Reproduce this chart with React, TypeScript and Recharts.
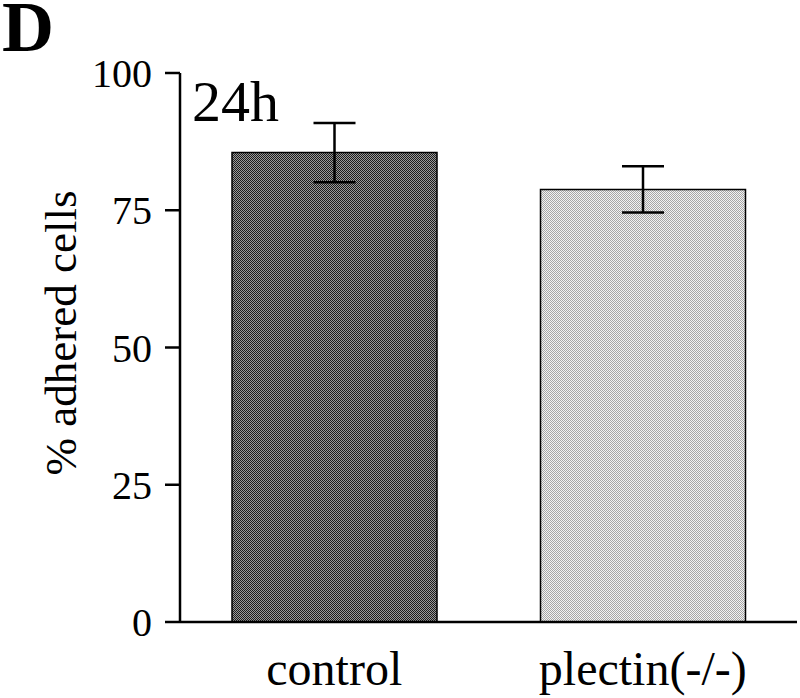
import React from 'react';
import { BarChart, Bar, XAxis, YAxis, ErrorBar, Cell, Customized } from 'recharts';

const categories = ['control', 'plectin(-/-)'];
const adhered = [85.5, 78.8];
const errors = [5.4, 4.2];
const yTicks = [0, 25, 50, 75, 100];
const fills = ['url(#darkStipple)', 'url(#lightStipple)'];

const data = categories.map((name, i) => ({ name, value: adhered[i], err: errors[i] }));

const serif = '"Liberation Serif", "DejaVu Serif", serif';

const Annotations = () => (
  <g>
    <text x={2} y={51} fontFamily={serif} fontWeight="bold" fontSize={72} fill="#000">D</text>
    <text x={192} y={121} fontFamily={serif} fontSize={58} fill="#000">24h</text>
    <text
      x={0}
      y={0}
      transform="translate(76,333) rotate(-90)"
      textAnchor="middle"
      fontFamily={serif}
      fontSize={45}
      fill="#000"
    >
      % adhered cells
    </text>
  </g>
);

export default function App() {
  return (
    <div style={{ position: 'absolute', left: 0, top: 0, background: '#fff' }}>
      <BarChart
        width={800}
        height={698}
        data={data}
        margin={{ top: 73, right: 3, bottom: 0, left: 0 }}
        barCategoryGap={0}
      >
        <defs>
          <pattern id="darkStipple" width={2} height={2} patternUnits="userSpaceOnUse">
            <rect x={0} y={0} width={2} height={2} fill="#9a9a9a" />
            <rect x={0} y={0} width={1} height={1} fill="#1c1c1c" />
            <rect x={1} y={1} width={1} height={1} fill="#1c1c1c" />
          </pattern>
          <pattern id="lightStipple" width={2} height={2} patternUnits="userSpaceOnUse">
            <rect x={0} y={0} width={2} height={2} fill="#f2f2f2" />
            <rect x={0} y={0} width={1} height={1} fill="#a6a6a6" />
            <rect x={1} y={1} width={1} height={1} fill="#a6a6a6" />
          </pattern>
        </defs>
        <XAxis
          dataKey="name"
          height={76}
          tickLine={false}
          tickSize={0}
          tickMargin={29}
          axisLine={{ stroke: '#000', strokeWidth: 2.5 }}
          tick={{ fill: '#000', fontSize: 48, fontFamily: serif }}
          interval={0}
        />
        <XAxis
          xAxisId="top"
          orientation="top"
          dataKey="name"
          height={0}
          tick={false}
          tickLine={false}
          axisLine={{ stroke: '#000', strokeWidth: 2.5 }}
        />
        <YAxis
          domain={[0, 100]}
          ticks={yTicks}
          width={180}
          tickSize={15}
          tickMargin={13}
          axisLine={{ stroke: '#000', strokeWidth: 2.5 }}
          tickLine={{ stroke: '#000', strokeWidth: 2.5 }}
          tick={{ fill: '#000', fontSize: 40, fontFamily: serif }}
        />
        <YAxis
          yAxisId="right"
          orientation="right"
          domain={[0, 100]}
          width={0}
          tick={false}
          tickLine={false}
          axisLine={{ stroke: '#000', strokeWidth: 2.5 }}
        />
        <Bar dataKey="value" barSize={205} stroke="#000" strokeWidth={1.5} isAnimationActive={false}>
          {data.map((d, i) => (
            <Cell key={d.name} fill={fills[i]} />
          ))}
          <ErrorBar dataKey="err" width={21} stroke="#000" strokeWidth={2.5} direction="y" />
        </Bar>
        <Customized component={Annotations} />
      </BarChart>
    </div>
  );
}
